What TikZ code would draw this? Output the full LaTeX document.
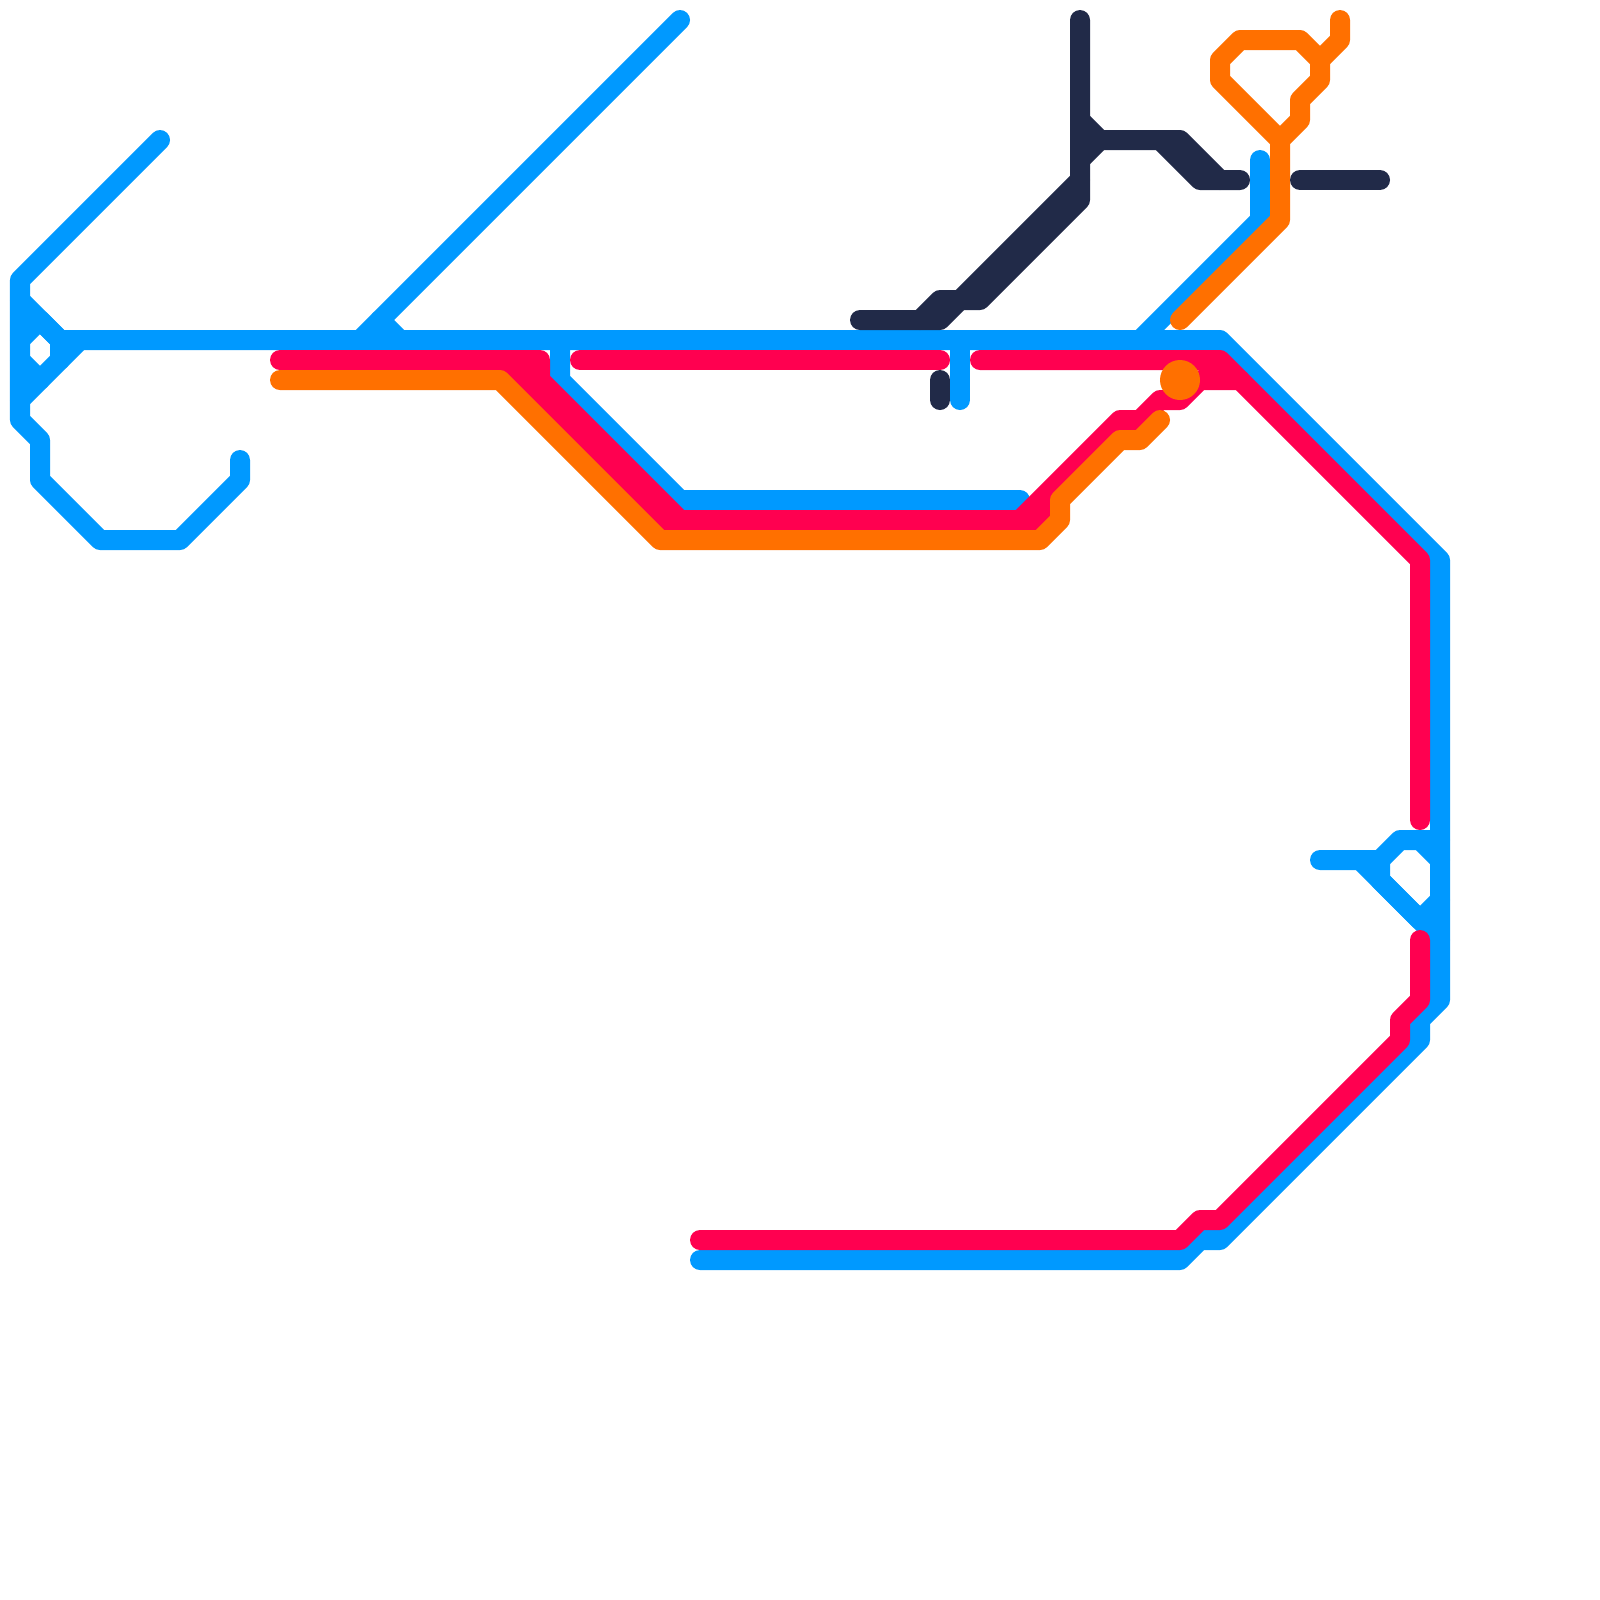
\documentclass[tikz,border=0pt]{standalone}
\definecolor{lineblue}{RGB}{0,153,255}
\definecolor{linered}{RGB}{255,0,80}
\definecolor{lineorange}{RGB}{255,112,0}
\definecolor{linedark}{RGB}{33,42,72}
\tikzset{
  metro/.style={line width=2.5mm,line cap=round,line join=round},
  blueline/.style={metro,draw=lineblue},
  redline/.style={metro,draw=linered},
  orangeline/.style={metro,draw=lineorange},
  darkline/.style={metro,draw=linedark}
}
\begin{document}
\begin{tikzpicture}[x=0.125mm,y=-0.125mm]
\useasboundingbox (0,0) rectangle (1600,1600);
\fill[white] (0,0) rectangle (1600,1600);
% blue
\draw[blueline] (160,140) -- (20,280) -- (20,420) -- (40,440) -- (40,480) -- (100,540) -- (180,540) -- (240,480) -- (240,460);
\draw[blueline] (20,300) -- (60,340) -- (60,360);
\draw[blueline] (20,340) -- (40,320) -- (60,340);
\draw[blueline] (20,360) -- (40,380);
\draw[blueline] (20,400) -- (80,340);
\draw[blueline] (60,340) -- (1220,340) -- (1440,560) -- (1440,1000) -- (1420,1020) -- (1420,1040) -- (1220,1240) -- (1200,1240) -- (1180,1260) -- (700,1260);
\draw[blueline] (680,20) -- (360,340);
\draw[blueline] (380,320) -- (400,340);
\draw[blueline] (560,340) -- (560,380) -- (680,500) -- (1020,500);
\draw[blueline] (960,340) -- (960,400);
\draw[blueline] (1260,160) -- (1260,220) -- (1140,340);
\draw[blueline] (1320,860) -- (1380,860) -- (1400,840) -- (1440,840);
\draw[blueline] (1420,840) -- (1440,860);
\draw[blueline] (1380,860) -- (1380,880) -- (1420,920) -- (1440,900);
\draw[blueline] (1360,860) -- (1440,940);
% red
\draw[redline] (280,360) -- (540,360) -- (540,380) -- (680,520) -- (1040,520) -- (1060,500);
\draw[redline] (500,360) -- (660,520) -- (680,520);
\draw[redline] (520,360) -- (540,380);
\draw[redline] (580,360) -- (940,360);
\draw[redline] (980,360) -- (1220,360) -- (1420,560) -- (1420,820);
\draw[redline] (1020,520) -- (1120,420) -- (1140,420) -- (1160,400) -- (1180,400) -- (1200,380) -- (1240,380);
\draw[redline] (1420,940) -- (1420,1000) -- (1400,1020) -- (1400,1040) -- (1220,1220) -- (1200,1220) -- (1180,1240) -- (700,1240);
% orange
\draw[orangeline] (280,380) -- (500,380) -- (660,540) -- (1040,540) -- (1060,520) -- (1060,500) -- (1120,440) -- (1140,440) -- (1160,420);
\draw[orangeline] (1180,320) -- (1280,220) -- (1280,140) -- (1220,80) -- (1220,60) -- (1240,40) -- (1300,40) -- (1320,60) -- (1320,80) -- (1300,100) -- (1300,120) -- (1280,140);
\draw[orangeline] (1320,60) -- (1340,40) -- (1340,20);
\fill[lineorange] (1180,380) circle[radius=2.5mm];
% dark
\draw[darkline] (1080,20) -- (1080,200) -- (980,300) -- (940,300) -- (920,320);
\draw[darkline] (860,320) -- (940,320) -- (1080,180);
\draw[darkline] (1080,120) -- (1100,140) -- (1080,160);
\draw[darkline] (1100,140) -- (1180,140) -- (1220,180) -- (1240,180);
\draw[darkline] (1160,140) -- (1200,180) -- (1220,180);
\draw[darkline] (1300,180) -- (1380,180);
\draw[darkline] (940,380) -- (940,400);
\end{tikzpicture}
\end{document}
